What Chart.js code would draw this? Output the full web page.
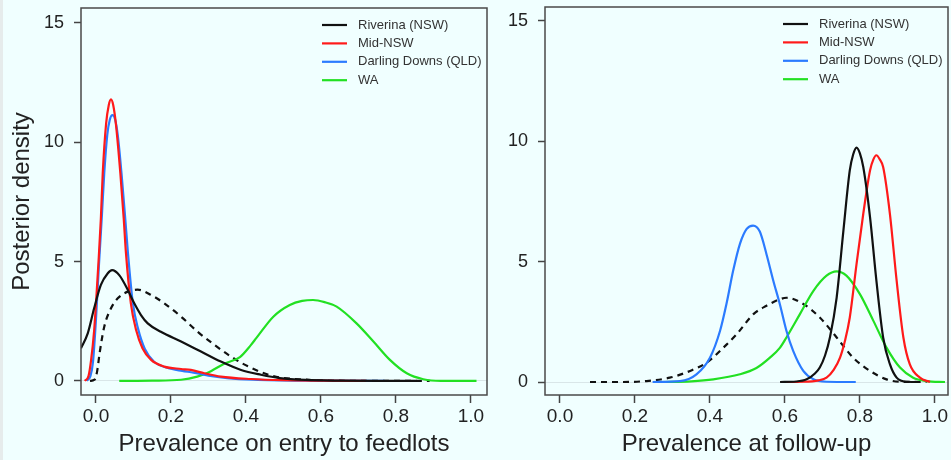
<!DOCTYPE html>
<html>
<head>
<meta charset="utf-8">
<title>Posterior prevalence densities</title>
<script src="https://cdn.jsdelivr.net/npm/chart.js@4/dist/chart.umd.min.js"></script>
<style>
html, body { margin: 0; padding: 0; background: #f0ffff; }
#wrap { position: relative; width: 951px; height: 460px; overflow: hidden; }
#strip { position: absolute; left: 0; top: 0; width: 3px; height: 460px; background: #e6ecec; }
canvas { position: absolute; top: 0; }
#entryChart { left: 0; }
#followChart { left: 490px; }
</style>
</head>
<body>
<div id="wrap">
  <div id="strip"></div>
  <canvas id="entryChart" width="490" height="460"></canvas>
  <canvas id="followChart" width="461" height="460"></canvas>
</div>
<script>
// tick labels shared by both panels
const xTicks = [0, 0.2, 0.4, 0.6, 0.8, 1.0];
const yTicks = [0, 5, 10, 15];
const legendNames = ['Riverina (NSW)', 'Mid-NSW', 'Darling Downs (QLD)', 'WA'];
const priorName = 'Prior';

// left panel: prevalence on entry to feedlots
const entryRivX = [-0.04, -0.022, -0.005, 0.013, 0.031, 0.043, 0.062, 0.085, 0.102, 0.12, 0.138, 0.173, 0.227, 0.28, 0.333, 0.387, 0.44, 0.49, 0.56, 0.65, 0.75, 0.855];
const entryRivY = [1.37, 1.99, 3.04, 4.02, 4.50, 4.64, 4.43, 3.81, 3.25, 2.76, 2.41, 2.06, 1.65, 1.23, 0.81, 0.46, 0.26, 0.12, 0.04, 0.01, 0, 0];

const entryMidX = [-0.03, -0.02, -0.013, -0.005, 0.0, 0.006, 0.013, 0.018, 0.027, 0.034, 0.04, 0.046, 0.053, 0.065, 0.074, 0.08, 0.093, 0.107, 0.124, 0.147, 0.182, 0.227, 0.253, 0.289, 0.333, 0.413, 0.5, 0.6, 0.72];
const entryMidY = [0, 0.2, 0.88, 2.1, 3.25, 4.8, 6.8, 8.7, 10.78, 11.55, 11.79, 11.55, 10.78, 8.69, 6.8, 5.34, 3.25, 2.13, 1.37, 0.88, 0.6, 0.5, 0.46, 0.32, 0.18, 0.08, 0.03, 0.01, 0];

const entryDarX = [-0.025, -0.015, -0.008, 0.0, 0.008, 0.016, 0.022, 0.03, 0.037, 0.044, 0.051, 0.058, 0.068, 0.078, 0.085, 0.098, 0.112, 0.13, 0.155, 0.19, 0.23, 0.26, 0.3, 0.35, 0.42, 0.55, 0.77];
const entryDarY = [0, 0.2, 0.8, 2.6, 4.9, 7.0, 8.7, 10.3, 10.95, 11.13, 10.95, 10.3, 8.7, 6.8, 5.4, 3.3, 2.2, 1.35, 0.8, 0.55, 0.42, 0.35, 0.22, 0.12, 0.05, 0.01, 0];

const entryWaX = [0.062, 0.15, 0.227, 0.27, 0.298, 0.342, 0.384, 0.413, 0.428, 0.473, 0.517, 0.55, 0.579, 0.61, 0.642, 0.695, 0.74, 0.784, 0.829, 0.873, 0.92, 1.015];
const entryWaY = [0, 0.01, 0.05, 0.18, 0.34, 0.72, 1.0, 1.5, 1.8, 2.69, 3.18, 3.35, 3.39, 3.3, 3.11, 2.41, 1.65, 0.88, 0.32, 0.07, 0, 0];

const entryPriorX = [-0.016, -0.004, 0.003, 0.01, 0.022, 0.04, 0.058, 0.085, 0.111, 0.147, 0.182, 0.227, 0.271, 0.316, 0.36, 0.404, 0.473, 0.56, 0.65, 0.75, 0.89];
const entryPriorY = [0, 0.05, 0.4, 1.2, 2.27, 3.04, 3.46, 3.74, 3.82, 3.6, 3.25, 2.69, 2.06, 1.51, 1.02, 0.62, 0.2, 0.05, 0.01, 0, 0];

// right panel: prevalence at follow-up
const followRivX = [0.587, 0.63, 0.658, 0.68, 0.693, 0.707, 0.72, 0.738, 0.756, 0.773, 0.782, 0.791, 0.8, 0.809, 0.827, 0.844, 0.862, 0.88, 0.898, 0.924, 0.96];
const followRivY = [0, 0.02, 0.11, 0.35, 0.6, 1.1, 1.85, 3.51, 6.29, 8.79, 9.45, 9.74, 9.5, 8.93, 6.85, 4.21, 1.85, 0.74, 0.18, 0.01, 0];

const followMidX = [0.591, 0.65, 0.69, 0.711, 0.73, 0.747, 0.76, 0.773, 0.791, 0.809, 0.827, 0.836, 0.844, 0.853, 0.862, 0.88, 0.898, 0.916, 0.933, 0.96, 0.987];
const followMidY = [0, 0.01, 0.07, 0.18, 0.5, 1.01, 1.7, 2.68, 4.9, 6.99, 8.79, 9.25, 9.42, 9.25, 8.93, 6.99, 4.21, 1.85, 0.74, 0.18, 0];

const followDarX = [0.247, 0.32, 0.364, 0.4, 0.427, 0.444, 0.462, 0.48, 0.498, 0.515, 0.533, 0.551, 0.569, 0.587, 0.604, 0.622, 0.649, 0.676, 0.711, 0.789];
const followDarY = [0, 0.04, 0.32, 1.01, 2.13, 3.24, 4.63, 5.74, 6.36, 6.5, 6.25, 5.3, 4.21, 3.2, 2.13, 1.29, 0.46, 0.11, 0.01, 0];

const followWaX = [0.271, 0.35, 0.409, 0.48, 0.524, 0.56, 0.587, 0.604, 0.64, 0.676, 0.711, 0.738, 0.764, 0.8, 0.836, 0.871, 0.907, 0.942, 0.978, 1.027];
const followWaY = [0, 0.03, 0.11, 0.32, 0.58, 1.01, 1.43, 1.85, 2.82, 3.79, 4.42, 4.6, 4.42, 3.65, 2.54, 1.43, 0.6, 0.18, 0.04, 0];

const followPriorX = [0.08, 0.15, 0.231, 0.293, 0.347, 0.391, 0.436, 0.471, 0.516, 0.551, 0.587, 0.604, 0.649, 0.693, 0.738, 0.782, 0.827, 0.871, 0.907, 0.978];
const followPriorY = [0, 0, 0.04, 0.18, 0.46, 0.8, 1.43, 1.98, 2.82, 3.17, 3.44, 3.5, 3.24, 2.68, 1.85, 1.01, 0.46, 0.11, 0.01, 0];

const FONT = '"Liberation Sans", Arial, Helvetica, sans-serif';
const COLORS = { 'Riverina (NSW)': '#111111', 'Mid-NSW': '#ff1a1a', 'Darling Downs (QLD)': '#2b7bff', 'WA': '#22e022', 'Prior': '#111111' };
// lower order = drawn on top
const ORDER = { 'Riverina (NSW)': 0, 'Mid-NSW': 1, 'Darling Downs (QLD)': 2, 'WA': 3, 'Prior': 4 };

function pts(xs, ys){ return xs.map((x,i)=>({x, y: ys[i]})); }

function series(label, xs, ys){
  return {
    label,
    data: pts(xs, ys),
    borderColor: COLORS[label],
    borderWidth: 2.2,
    borderDash: label===priorName ? [6,5] : [],
    pointRadius: 0,
    fill: false,
    cubicInterpolationMode: 'monotone',
    order: ORDER[label]
  };
}

// R-style closed box around the plot region
const boxPlugin = {
  id: 'plotBox',
  afterDraw(chart){
    const {ctx, chartArea:a} = chart;
    ctx.save();
    ctx.strokeStyle = '#4a4a4a';
    ctx.lineWidth = 1.5;
    ctx.strokeRect(a.left, a.top, a.right-a.left, a.bottom-a.top);
    ctx.restore();
  }
};

// legend drawn inside the top-right corner of the plot
const legendPlugin = {
  id: 'cornerLegend',
  afterDraw(chart){
    const {ctx, chartArea:a} = chart;
    const x0 = a.right - 165;
    ctx.save();
    ctx.font = '13px ' + FONT;
    ctx.textBaseline = 'middle';
    ctx.textAlign = 'left';
    legendNames.forEach((name, i)=>{
      const ds = chart.data.datasets.find(d=>d.label===name);
      if(!ds) return;
      const y = a.top + 17 + i*18.4;
      ctx.strokeStyle = ds.borderColor;
      ctx.lineWidth = 2.2;
      ctx.beginPath(); ctx.moveTo(x0, y); ctx.lineTo(x0+25, y); ctx.stroke();
      ctx.fillStyle = '#333';
      ctx.fillText(name, x0+36, y);
    });
    ctx.restore();
  }
};

function makeOptions(o){
  return {
    responsive: false,
    animation: false,
    layout: { padding: { top: o.padTop, right: 3, left: 0, bottom: 0 } },
    plugins: { legend: { display: false }, tooltip: { enabled: false } },
    scales: {
      x: {
        type: 'linear', min: o.xMin, max: o.xMax,
        afterBuildTicks: s => { s.ticks = xTicks.map(v=>({value:v})); },
        afterFit: s => { s.height = 65; s.paddingLeft = 0; s.paddingRight = 0; },
        border: { display: false },
        grid: { drawOnChartArea: false, drawTicks: true, tickLength: 8, tickColor: '#444', tickWidth: 1.5 },
        ticks: { font: { family: FONT, size: 19 }, color: '#222', padding: 2, maxRotation: 0, autoSkip: false, callback: v => v.toFixed(1) },
        title: { display: true, text: o.xTitle, font: { family: FONT, size: 24 }, color: '#222', padding: { top: 0, bottom: 1 } }
      },
      y: {
        type: 'linear', min: o.yMin, max: o.yMax,
        afterBuildTicks: s => { s.ticks = yTicks.map(v=>({value:v})); },
        afterFit: s => { s.width = o.yWidth; s.paddingTop = 0; s.paddingBottom = 0; },
        border: { display: false },
        grid: {
          drawOnChartArea: true, drawTicks: true, tickLength: 7, tickWidth: 1.5, tickColor: '#444',
          color: c => (c.tick && c.tick.value === 0) ? '#d9e6e8' : 'rgba(0,0,0,0)'
        },
        ticks: { font: { family: FONT, size: 18 }, color: '#222', padding: 10, autoSkip: false, callback: v => String(v) },
        title: { display: !!o.yTitle, text: o.yTitle || '', font: { family: FONT, size: 24 }, color: '#222', padding: { top: 8, bottom: 0 } }
      }
    }
  };
}

new Chart(document.getElementById('entryChart'), {
  type: 'line',
  data: { datasets: [
    series('Riverina (NSW)', entryRivX, entryRivY),
    series('Mid-NSW', entryMidX, entryMidY),
    series('Darling Downs (QLD)', entryDarX, entryDarY),
    series('WA', entryWaX, entryWaY),
    series(priorName, entryPriorX, entryPriorY)
  ]},
  options: makeOptions({ xTitle: 'Prevalence on entry to feedlots', yTitle: 'Posterior density', xMin: -0.04, xMax: 1.043, yMin: -0.59, yMax: 15.62, yWidth: 81, padTop: 8 }),
  plugins: [boxPlugin, legendPlugin]
});

new Chart(document.getElementById('followChart'), {
  type: 'line',
  data: { datasets: [
    series('Riverina (NSW)', followRivX, followRivY),
    series('Mid-NSW', followMidX, followMidY),
    series('Darling Downs (QLD)', followDarX, followDarY),
    series('WA', followWaX, followWaY),
    series(priorName, followPriorX, followPriorY)
  ]},
  options: makeOptions({ xTitle: 'Prevalence at follow-up', xMin: -0.04, xMax: 1.035, yMin: -0.54, yMax: 15.58, yWidth: 55, padTop: 7 }),
  plugins: [boxPlugin, legendPlugin]
});
</script>
</body>
</html>
